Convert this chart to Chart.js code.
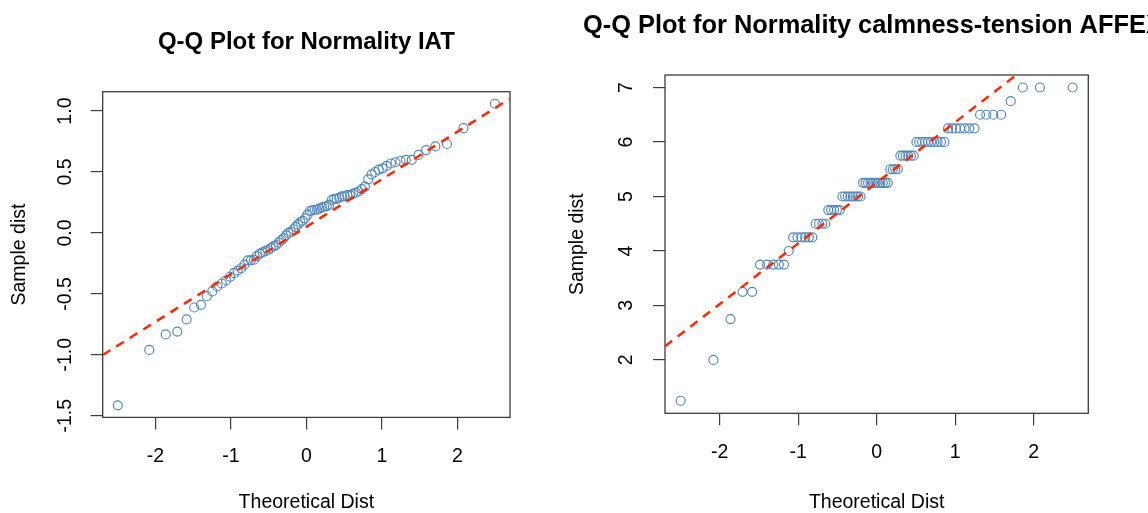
<!DOCTYPE html>
<html><head><meta charset="utf-8">
<script src="https://cdn.jsdelivr.net/npm/chart.js@4.4.1/dist/chart.umd.min.js"></script>
<style>
html,body{margin:0;padding:0;background:#fff;overflow:hidden;width:1148px;height:513px;}
canvas{position:absolute;top:0;}
#c1{left:0;} #c2{left:557px;}
</style></head><body>
<canvas id="c1" width="574" height="513"></canvas>
<canvas id="c2" width="591" height="513"></canvas>
<script>
// ---- data ----
const theoreticalQuantiles = [
 -2.4977,-2.0808,-1.8627,-1.7091,-1.5865,-1.4858,-1.3968,-1.3180,-1.2469,-1.1808,
 -1.1204,-1.0636,-1.0100,-0.9594,-0.9107,-0.8643,-0.8197,-0.7764,-0.7343,-0.6940,
 -0.6550,-0.6161,-0.5791,-0.5428,-0.5066,-0.4712,-0.4367,-0.4022,-0.3686,-0.3351,
 -0.3022,-0.2697,-0.2372,-0.2051,-0.1733,-0.1416,-0.1101,-0.0784,-0.0470,-0.0157,
  0.0157, 0.0470, 0.0784, 0.1101, 0.1416, 0.1733, 0.2051, 0.2372, 0.2697, 0.3022,
  0.3351, 0.3686, 0.4022, 0.4367, 0.4712, 0.5066, 0.5428, 0.5791, 0.6161, 0.6550,
  0.6940, 0.7343, 0.7764, 0.8197, 0.8643, 0.9107, 0.9594, 1.0100, 1.0636, 1.1204,
  1.1808, 1.2469, 1.3180, 1.3968, 1.4858, 1.5865, 1.7091, 1.8627, 2.0808, 2.4977
];
const sampleIAT = [
 -1.415,-0.96,-0.833,-0.81,-0.71,-0.612,-0.59,-0.52,-0.48,-0.44,
 -0.415,-0.39,-0.36,-0.33,-0.31,-0.29,-0.26,-0.225,-0.225,-0.22,
 -0.19,-0.17,-0.16,-0.15,-0.14,-0.125,-0.11,-0.10,-0.08,-0.06,
 -0.045,-0.02,0.0,0.01,0.03,0.05,0.07,0.09,0.10,0.12,
 0.15,0.18,0.185,0.19,0.19,0.20,0.21,0.215,0.22,0.23,
 0.27,0.28,0.28,0.29,0.30,0.30,0.31,0.31,0.32,0.33,
 0.34,0.36,0.38,0.44,0.48,0.50,0.52,0.53,0.55,0.57,
 0.58,0.59,0.60,0.60,0.64,0.68,0.71,0.73,0.86,1.06
];
const sampleAFFEX = [
 1.25,2.0,2.75,3.25,3.25,3.75,3.75,3.75,3.75,3.75,
 4.0,4.25,4.25,4.25,4.25,4.25,4.25,4.5,4.5,4.5,
 4.5,4.75,4.75,4.75,4.75,4.75,5.0,5.0,5.0,5.0,
 5.0,5.0,5.0,5.0,5.25,5.25,5.25,5.25,5.25,5.25,
 5.25,5.25,5.25,5.25,5.25,5.5,5.5,5.5,5.5,5.75,
 5.75,5.75,5.75,5.75,5.75,6.0,6.0,6.0,6.0,6.0,
 6.0,6.0,6.0,6.0,6.0,6.25,6.25,6.25,6.25,6.25,
 6.25,6.25,6.5,6.5,6.5,6.5,6.75,7.0,7.0,7.0
];
const qqLineX = [-2.6975, 2.6975];
const qqLineIAT = [-1.002, 1.102];
const qqLineAFFEX = [2.25, 8.25];
const xTickValues = [-2,-1,0,1,2];
const yTickIAT = [-1.5,-1.0,-0.5,0.0,0.5,1.0];
const yTickAFFEX = [2,3,4,5,6,7];
const titleIAT = 'Q-Q Plot for Normality IAT';
const titleAFFEX = 'Q-Q Plot for Normality calmness-tension AFFEX';
const xTitle = 'Theoretical Dist';
const yTitle = 'Sample dist';

// ---- drawing ----
const FONT = '"Liberation Sans", Arial, Helvetica, sans-serif';
const AXIS = '#3c3c3c';

const boxPlugin = {
  id: 'plotBox',
  beforeDatasetsDraw(chart) {
    const {ctx, chartArea: a} = chart;
    ctx.save();
    ctx.strokeStyle = AXIS; ctx.lineWidth = 1.3;
    ctx.strokeRect(a.left, a.top, a.right - a.left, a.bottom - a.top);
    ctx.restore();
  }
};
const mainTitlePlugin = {
  id: 'mainTitle',
  afterDraw(chart, args, o) {
    const {ctx, chartArea: a} = chart;
    ctx.save();
    ctx.font = 'bold ' + o.size + 'px ' + FONT;
    ctx.fillStyle = '#000';
    ctx.textBaseline = 'middle';
    ctx.textAlign = o.align;
    const x = o.align === 'center' ? (a.left + a.right) / 2 : o.x;
    ctx.fillText(o.text, x, a.top + o.dy);
    ctx.restore();
  }
};

function makeChart(id, cfg) {
  const pts = theoreticalQuantiles.map((x, i) => ({x, y: cfg.sample[i]}));
  const line = qqLineX.map((x, i) => ({x, y: cfg.line[i]}));
  const gridOpts = {drawOnChartArea: false, drawTicks: true, tickLength: 12, color: AXIS, lineWidth: 1.2};
  return new Chart(document.getElementById(id), {
    type: 'scatter',
    data: {datasets: [
      {type: 'line', data: line, borderColor: '#ff2a00', borderWidth: 2.5, borderDash: [9, 7],
       pointRadius: 0, fill: false, tension: 0},
      {data: pts, showLine: false, pointStyle: 'circle', pointRadius: 4.5, pointHoverRadius: 4.5,
       borderColor: '#4f86bd', backgroundColor: 'rgba(0,0,0,0)', borderWidth: 1.15}
    ]},
    options: {
      responsive: false, animation: false, events: [],
      layout: {padding: {left: 0, top: cfg.top, right: cfg.right, bottom: 0}},
      plugins: {legend: {display: false}, tooltip: {enabled: false}, title: {display: false},
        mainTitle: cfg.title},
      scales: {
        x: {type: 'linear', min: qqLineX[0], max: qqLineX[1],
          afterBuildTicks: s => { s.ticks = xTickValues.map(v => ({value: v})); },
          afterFit: s => { s.height = cfg.xH; },
          grid: gridOpts, border: {display: false},
          ticks: {padding: 15.6, color: '#000', autoSkip: false, maxRotation: 0, minRotation: 0,
            font: {family: FONT, size: 19.5}, callback: v => String(v)},
          title: {display: true, text: xTitle, color: '#000', font: {family: FONT, size: 19.5, lineHeight: 1},
            padding: {top: 0, bottom: 0.25}}
        },
        y: {type: 'linear', min: cfg.yMin, max: cfg.yMax,
          afterBuildTicks: s => { s.ticks = cfg.yTicks.map(v => ({value: v})); },
          afterFit: s => { s.width = cfg.yW; },
          grid: gridOpts, border: {display: false},
          ticks: {padding: cfg.yPad, color: '#000', autoSkip: false, minRotation: 90, maxRotation: 90,
            crossAlign: 'center', font: {family: FONT, size: 19.5}, callback: cfg.yFmt},
          title: {display: true, text: yTitle, color: '#000', font: {family: FONT, size: 19.5, lineHeight: 1},
            padding: {top: cfg.yTitlePad, bottom: 0}}
        }
      }
    },
    plugins: [boxPlugin, mainTitlePlugin]
  });
}

makeChart('c1', {
  sample: sampleIAT, line: qqLineIAT, yTicks: yTickIAT, yMin: -1.514, yMax: 1.159,
  top: 91.7, right: 64, xH: 95.6, yW: 102.7, yPad: 8.1, yTitlePad: 10.25,
  yFmt: v => Number(v).toFixed(1),
  title: {text: titleIAT, size: 24, align: 'center', dy: -49.2}
});
makeChart('c2', {
  sample: sampleAFFEX, line: qqLineAFFEX, yTicks: yTickAFFEX, yMin: 1.02, yMax: 7.23,
  top: 75, right: 59.7, xH: 99.7, yW: 108, yPad: 20.9, yTitlePad: 10.75,
  yFmt: v => String(v),
  title: {text: titleAFFEX, size: 25.4, align: 'left', x: 26, dy: -49.5}
});
</script>
</body></html>
